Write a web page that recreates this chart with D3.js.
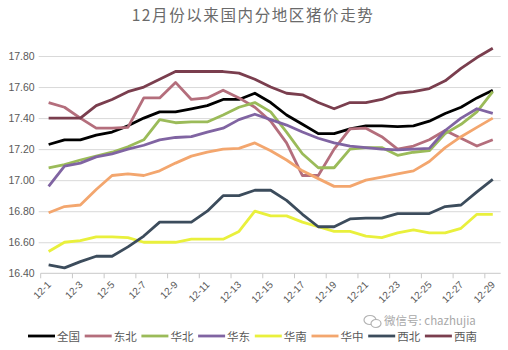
<!DOCTYPE html>
<html>
<head>
<meta charset="utf-8">
<script src="https://cdn.jsdelivr.net/npm/d3@7"></script>
<style>
  html, body { margin: 0; padding: 0; background: #ffffff; }
  svg { display: block; }
</style>
</head>
<body>
<svg id="chart" width="508" height="350"></svg>
<script>
// Daily pig prices by region, December (yuan/kg)
const titleText = "12月份以来国内分地区猪价走势";
const categories = d3.range(1, 30).map(d => "12-" + d);
const xTickLabels = ["12-1","12-3","12-5","12-7","12-9","12-11","12-13","12-15","12-17","12-19","12-21","12-23","12-25","12-27","12-29"];
const yTicks = [16.40, 16.60, 16.80, 17.00, 17.20, 17.40, 17.60, 17.80];

const seriesNames = ["全国", "东北", "华北", "华东", "华南", "华中", "西北", "西南"];

const quanguo = [17.23,17.26,17.26,17.29,17.31,17.35,17.40,17.44,17.44,17.46,17.48,17.52,17.52,17.56,17.50,17.42,17.36,17.30,17.30,17.33,17.35,17.35,17.345,17.35,17.38,17.43,17.47,17.53,17.58];
const dongbei = [17.50,17.47,17.40,17.335,17.335,17.34,17.53,17.53,17.63,17.52,17.53,17.58,17.53,17.47,17.38,17.24,17.03,17.03,17.20,17.33,17.335,17.28,17.20,17.22,17.26,17.32,17.27,17.22,17.26];
const huabei = [17.08,17.10,17.13,17.155,17.18,17.215,17.26,17.39,17.37,17.375,17.375,17.42,17.47,17.50,17.44,17.31,17.17,17.08,17.08,17.20,17.21,17.21,17.16,17.18,17.19,17.30,17.36,17.44,17.57];
const huadong = [16.96,17.09,17.11,17.15,17.17,17.20,17.225,17.26,17.275,17.28,17.31,17.335,17.39,17.425,17.39,17.355,17.31,17.27,17.24,17.22,17.21,17.20,17.195,17.20,17.205,17.32,17.40,17.46,17.43];
const huanan = [16.54,16.60,16.61,16.635,16.635,16.63,16.60,16.60,16.60,16.62,16.62,16.62,16.67,16.80,16.77,16.77,16.73,16.70,16.67,16.67,16.64,16.63,16.66,16.68,16.66,16.66,16.69,16.78,16.78];
const huazhong = [16.79,16.83,16.84,16.94,17.03,17.04,17.03,17.06,17.11,17.155,17.18,17.20,17.205,17.24,17.19,17.13,17.06,17.01,16.96,16.96,17.00,17.02,17.04,17.06,17.12,17.21,17.28,17.34,17.40];
const xibei = [16.455,16.435,16.475,16.51,16.51,16.57,16.64,16.73,16.73,16.73,16.80,16.90,16.90,16.935,16.935,16.87,16.78,16.70,16.70,16.75,16.755,16.755,16.785,16.785,16.785,16.83,16.84,16.925,17.005];
const xinan = [17.40,17.40,17.40,17.48,17.52,17.57,17.60,17.65,17.70,17.70,17.70,17.70,17.69,17.65,17.60,17.56,17.55,17.50,17.46,17.50,17.50,17.52,17.56,17.57,17.59,17.64,17.72,17.79,17.85];

const seriesValues = [quanguo, dongbei, huabei, huadong, huanan, huazhong, xibei, xinan];
const seriesColors = ["#000000", "#b46e7c", "#9bbb59", "#8064a2", "#e9f03c", "#f3a66e", "#3c4c5c", "#7a3e4e"];

const svg = d3.select("#chart");
const margin = { left: 40.7, right: 7.3, top: 56, bottom: 76.7 };
const W = 508, H = 350;

const x = d3.scaleBand().domain(categories).range([margin.left, W - margin.right]).padding(0);
const y = d3.scaleLinear().domain([16.4, 17.8]).range([H - margin.bottom, margin.top]);
const cx = d => x(d) + x.bandwidth() / 2;

const textColor = "#595959";
const latin = "'Liberation Sans', Arial, sans-serif";
const cjk = "'Noto Sans CJK SC', 'Noto Sans', sans-serif";

// Title
svg.append("text")
  .attr("x", 253).attr("y", 21)
  .attr("text-anchor", "middle")
  .attr("font-family", cjk)
  .attr("font-size", 15.5)
  .attr("letter-spacing", 1.6)
  .attr("fill", "#6a6a6a")
  .text(titleText);

// Y axis with gridlines
const yAxis = svg.append("g")
  .attr("transform", `translate(${margin.left},0)`)
  .call(d3.axisLeft(y).tickValues(yTicks).tickFormat(d3.format(".2f"))
    .tickSize(-(W - margin.left - margin.right)).tickPadding(6));
yAxis.select(".domain").remove();
yAxis.selectAll(".tick line").attr("stroke", "#d9d9d9").attr("stroke-width", 1)
  .attr("x1", -2);
yAxis.selectAll(".tick:first-of-type line").remove();
yAxis.selectAll("text")
  .attr("fill", textColor).attr("font-family", latin).attr("font-size", 10.5);

// X axis baseline, boundary ticks and rotated labels
const xAxisY = y(16.4);
svg.append("line")
  .attr("x1", margin.left).attr("x2", W - margin.right)
  .attr("y1", xAxisY).attr("y2", xAxisY)
  .attr("stroke", "#c8c8c8").attr("stroke-width", 1);
svg.append("g").selectAll("line")
  .data(categories.filter((d, i) => i % 2 === 0))
  .join("line")
  .attr("x1", d => x(d)).attr("x2", d => x(d))
  .attr("y1", xAxisY).attr("y2", xAxisY + 5)
  .attr("stroke", "#c8c8c8").attr("stroke-width", 1);

const xAxis = svg.append("g")
  .attr("transform", `translate(0,${xAxisY})`)
  .call(d3.axisBottom(x).tickValues(xTickLabels).tickSize(0).tickPadding(0));
xAxis.select(".domain").remove();
xAxis.selectAll("text")
  .attr("fill", textColor).attr("font-family", latin).attr("font-size", 10)
  .attr("text-anchor", "end")
  .attr("dy", 0)
  .attr("transform", "translate(3,12) rotate(-45)");

// Series lines
const line = d3.line().x((d, i) => cx(categories[i])).y(d => y(d));
svg.append("g").selectAll("path")
  .data(seriesValues)
  .join("path")
  .attr("d", d => line(d))
  .attr("fill", "none")
  .attr("stroke", (d, i) => seriesColors[i])
  .attr("stroke-width", 2.8)
  .attr("stroke-linejoin", "round");

// Legend
const legend = svg.append("g");
const legendItem = legend.selectAll("g")
  .data(seriesNames)
  .join("g")
  .attr("transform", (d, i) => `translate(${28 + i * 56.7},336)`);
legendItem.append("line")
  .attr("x1", 0).attr("x2", 27).attr("y1", 0).attr("y2", 0)
  .attr("stroke", (d, i) => seriesColors[i]).attr("stroke-width", 2.8);
legendItem.append("text")
  .attr("x", 29).attr("y", 4.5)
  .attr("font-family", cjk).attr("font-size", 11.5)
  .attr("fill", textColor)
  .text(d => d);

// Account mark
const mark = svg.append("g").attr("transform", "translate(364,321)").attr("opacity", 0.75);
mark.append("ellipse").attr("cx", 6).attr("cy", -1).attr("rx", 6).attr("ry", 4.5)
  .attr("fill", "#ffffff").attr("stroke", "#9a9a9a").attr("stroke-width", 1.2);
mark.append("ellipse").attr("cx", 12).attr("cy", 2.5).attr("rx", 5).attr("ry", 4)
  .attr("fill", "#ffffff").attr("stroke", "#9a9a9a").attr("stroke-width", 1.2);
mark.append("text")
  .attr("x", 20).attr("y", 4)
  .attr("font-family", cjk).attr("font-size", 11.5)
  .attr("fill", "#8c8c8c")
  .attr("stroke", "#ffffff").attr("stroke-width", 2.5).attr("paint-order", "stroke")
  .text("微信号: chazhujia");
</script>
</body>
</html>
